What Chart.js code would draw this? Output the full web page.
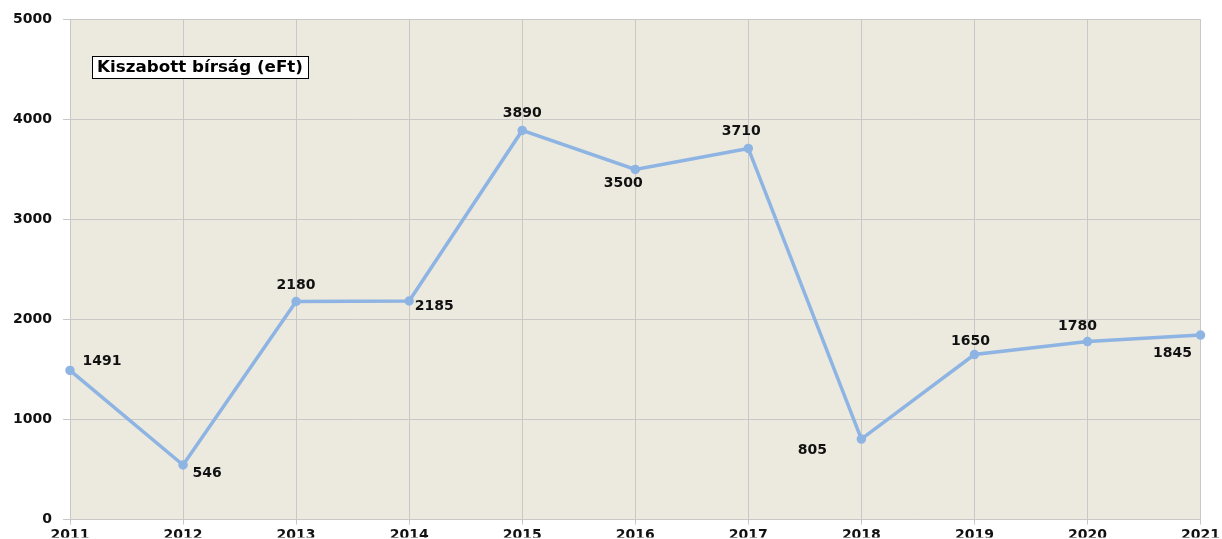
<!DOCTYPE html>
<html>
<head>
<meta charset="utf-8">
<script src="https://cdn.jsdelivr.net/npm/chart.js@4"></script>
<style>
  html, body { margin: 0; padding: 0; background: #fff; }
  #wrap { width: 1222px; height: 539px; }
</style>
</head>
<body>
<div id="wrap"><canvas id="chart" width="1222" height="539"></canvas></div>
<script>
// Kiszabott bírság (eFt) by year
const years = ["2011", "2012", "2013", "2014", "2015", "2016", "2017", "2018", "2019", "2020", "2021"];
const fines = [1491, 546, 2180, 2185, 3890, 3500, 3710, 805, 1650, 1780, 1845];
const seriesLabel = "Kiszabott bírság (eFt)";

// where each value label sits relative to its point (dx, dy in px)
const labelOffsets = [
    [32, -9], [24, 8], [0, -16], [25, 5], [0, -17], [-12, 14],
    [-7, -17], [-49, 11], [-4, -13], [-10, -15], [-28, 18],
];

const FONT = "DejaVu Sans";

const plotBackground = {
    id: "plotBackground",
    beforeDraw(chart) {
        const { ctx, chartArea: a } = chart;
        ctx.save();
        ctx.fillStyle = "#ece9df";
        ctx.fillRect(a.left, a.top, a.right - a.left, a.bottom - a.top);
        ctx.restore();
    },
};

const valueLabels = {
    id: "valueLabels",
    afterDatasetsDraw(chart) {
        const ctx = chart.ctx;
        const meta = chart.getDatasetMeta(0);
        ctx.save();
        ctx.font = `bold 14px "${FONT}"`;
        ctx.fillStyle = "#111";
        ctx.textAlign = "center";
        ctx.textBaseline = "middle";
        meta.data.forEach((pt, i) => {
            const [dx, dy] = labelOffsets[i];
            ctx.fillText(String(fines[i]), pt.x + dx, pt.y + dy);
        });
        ctx.restore();
    },
};

// framed series name in the upper left of the plot, text a bit wide like the original
const boxLegend = {
    id: "boxLegend",
    afterDraw(chart) {
        const ctx = chart.ctx;
        const x = 92, y = 56, h = 22, w = 216;
        ctx.save();
        ctx.fillStyle = "#fff";
        ctx.fillRect(x, y, w, h);
        ctx.strokeStyle = "#000";
        ctx.lineWidth = 1;
        ctx.strokeRect(x + 0.5, y + 0.5, w, h);
        ctx.font = `bold 16px "${FONT}"`;
        const tw = ctx.measureText(seriesLabel).width;
        ctx.translate(x + 5, y + h / 2 + 1);
        ctx.scale((w - 10) / tw, 1);
        ctx.fillStyle = "#000";
        ctx.textBaseline = "middle";
        ctx.fillText(seriesLabel, 0, 0);
        ctx.restore();
    },
};

new Chart(document.getElementById("chart"), {
    type: "line",
    data: {
        labels: years,
        datasets: [{
            label: seriesLabel,
            data: fines,
            borderColor: "#8db4e3",
            backgroundColor: "#8db4e3",
            borderWidth: 3.5,
            pointRadius: 3,
            pointHoverRadius: 3,
            tension: 0,
            clip: false,
        }],
    },
    options: {
        responsive: false,
        animation: false,
        devicePixelRatio: 1,
        layout: { padding: { top: 18, right: 21, left: 0, bottom: 0 } },
        plugins: {
            legend: { display: false },
            tooltip: { enabled: false },
        },
        scales: {
            x: {
                offset: false,
                grid: { color: "#c8c8c8", tickLength: 5, drawTicks: true },
                border: { color: "#c8c8c8" },
                ticks: {
                    color: "#111",
                    font: { family: FONT, weight: "bold", size: 14 },
                    padding: 2,
                    maxRotation: 0,
                    autoSkip: false,
                },
                afterFit(scale) { scale.height = 18; },
            },
            y: {
                min: 0,
                max: 5000,
                grid: { color: "#c8c8c8", tickLength: 7 },
                border: { color: "#c8c8c8" },
                ticks: {
                    stepSize: 1000,
                    color: "#111",
                    font: { family: FONT, weight: "bold", size: 14 },
                    padding: 11,
                    callback: v => String(v),
                },
                afterFit(scale) { scale.width = 70; },
            },
        },
    },
    plugins: [plotBackground, valueLabels, boxLegend],
});
</script>
</body>
</html>
